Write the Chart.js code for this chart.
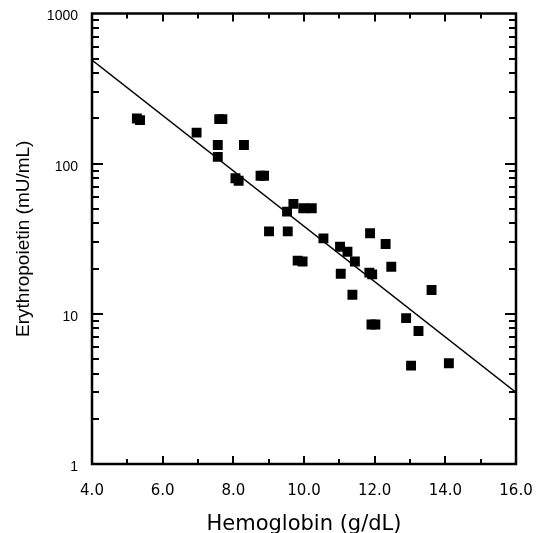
<!DOCTYPE html>
<html>
<head>
<meta charset="utf-8">
<title>Erythropoietin vs Hemoglobin</title>
<script src="https://cdn.jsdelivr.net/npm/chart.js@4.4.1/dist/chart.umd.min.js"></script>
<style>
  html, body { margin: 0; padding: 0; background: #fff; }
  #wrap { width: 540px; height: 533px; }
</style>
</head>
<body>
<div id="wrap"><canvas id="epoChart" width="540" height="533"></canvas></div>
<script>
// Hemoglobin (g/dL) for each patient
const hemoglobin = [5.27, 5.36, 6.96, 7.60, 7.69, 7.56, 7.56, 8.30, 8.06, 8.15,
  8.77, 8.87, 9.01, 9.54, 9.52, 9.70, 9.98, 10.22, 10.55, 11.02,
  11.23, 11.44, 9.82, 9.96, 11.87, 12.31, 12.47, 11.04, 11.85, 11.93,
  11.37, 13.61, 12.89, 11.91, 12.02, 13.24, 13.03, 14.10];

// Erythropoietin (mU/mL), same order
const erythropoietin = [200, 195, 161, 198, 198, 133, 111, 133, 80, 77,
  83, 83, 35.4, 35.4, 47.9, 54, 50.5, 50.5, 31.8, 28,
  25.9, 22.3, 22.6, 22.3, 34.4, 29.2, 20.6, 18.5, 18.8, 18.3,
  13.4, 14.4, 9.36, 8.5, 8.5, 7.69, 4.52, 4.69];

// regression line end points
const fitHb  = [4.0, 16.0];
const fitEpo = [489, 3.0];

const X_MIN = 4, X_MAX = 16, X_STEP = 2;
const Y_MIN = 1, Y_MAX = 1000;
const yTickValues = [1, 10, 100, 1000];
const yTickLabels = ['1', '10', '100', '1000'];

const points = hemoglobin.map((hb, i) => ({ x: hb, y: erythropoietin[i] }));
const fitLine = fitHb.map((hb, i) => ({ x: hb, y: fitEpo[i] }));

// frame and inward tick marks on all four sides
const frameTicks = {
  id: 'frameTicks',
  afterDatasetsDraw(chart) {
    const { ctx, chartArea: a, scales: { x, y } } = chart;
    ctx.save();
    ctx.strokeStyle = '#000';
    ctx.lineWidth = 2;
    ctx.beginPath();
    for (let v = X_MIN + 1; v < X_MAX; v++) {
      const px = Math.round(x.getPixelForValue(v));
      const len = v % 2 === 0 ? 8 : 5;
      ctx.moveTo(px, a.bottom); ctx.lineTo(px, a.bottom - len);
      ctx.moveTo(px, a.top);    ctx.lineTo(px, a.top + len);
    }
    for (let d = Y_MIN; d < Y_MAX; d *= 10) {
      for (let m = 1; m <= 9; m++) {
        if (m === 1 && d === Y_MIN) continue;
        const py = Math.round(y.getPixelForValue(d * m));
        const len = m === 1 ? 11 : 7;
        ctx.moveTo(a.left, py);  ctx.lineTo(a.left + len, py);
        ctx.moveTo(a.right, py); ctx.lineTo(a.right - len, py);
      }
    }
    ctx.stroke();
    ctx.lineWidth = 2.5;
    ctx.strokeRect(a.left, a.top, a.right - a.left, a.bottom - a.top);
    ctx.restore();
  }
};

new Chart(document.getElementById('epoChart'), {
  type: 'scatter',
  data: {
    datasets: [
      {
        data: points,
        pointStyle: 'rect',
        pointRadius: 7,
        pointBorderWidth: 0,
        backgroundColor: '#000',
        borderColor: '#000'
      },
      {
        data: fitLine,
        showLine: true,
        pointRadius: 0,
        borderColor: '#000',
        borderWidth: 1.4,
        fill: false
      }
    ]
  },
  options: {
    responsive: false,
    animation: false,
    layout: { padding: { top: 13.5, right: 24, left: 0, bottom: 0 } },
    plugins: { legend: { display: false }, tooltip: { enabled: false } },
    scales: {
      x: {
        type: 'linear',
        min: X_MIN,
        max: X_MAX,
        grid: { display: false, drawTicks: false },
        border: { display: false },
        afterFit(scale) {
          scale.height = 69;
          scale.paddingLeft = 0;
          scale.paddingRight = 0;
        },
        ticks: {
          stepSize: X_STEP,
          padding: 18,
          color: '#000',
          font: { family: 'DejaVu Sans', size: 15 },
          callback: v => Number(v).toFixed(1)
        },
        title: {
          display: true,
          text: 'Hemoglobin (g/dL)',
          color: '#000',
          padding: 0,
          font: { family: 'DejaVu Sans', size: 21, lineHeight: 0.78 }
        }
      },
      y: {
        type: 'logarithmic',
        min: Y_MIN,
        max: Y_MAX,
        grid: { display: false, drawTicks: false },
        border: { display: false },
        afterFit(scale) {
          scale.width = 92;
          scale.paddingTop = 0;
          scale.paddingBottom = 0;
        },
        ticks: {
          autoSkip: false,
          padding: 14,
          labelOffset: 3,
          color: '#000',
          font: { family: 'Liberation Sans', size: 14 },
          callback: v => {
            const i = yTickValues.findIndex(t => Math.abs(t - v) < 1e-6 * t);
            return i >= 0 ? yTickLabels[i] : null;
          }
        },
        title: {
          display: true,
          text: 'Erythropoietin (mU/mL)',
          color: '#000',
          padding: { top: 14, bottom: 0 },
          font: { family: 'Liberation Sans', size: 19, lineHeight: 1 }
        }
      }
    }
  },
  plugins: [frameTicks]
});
</script>
</body>
</html>
